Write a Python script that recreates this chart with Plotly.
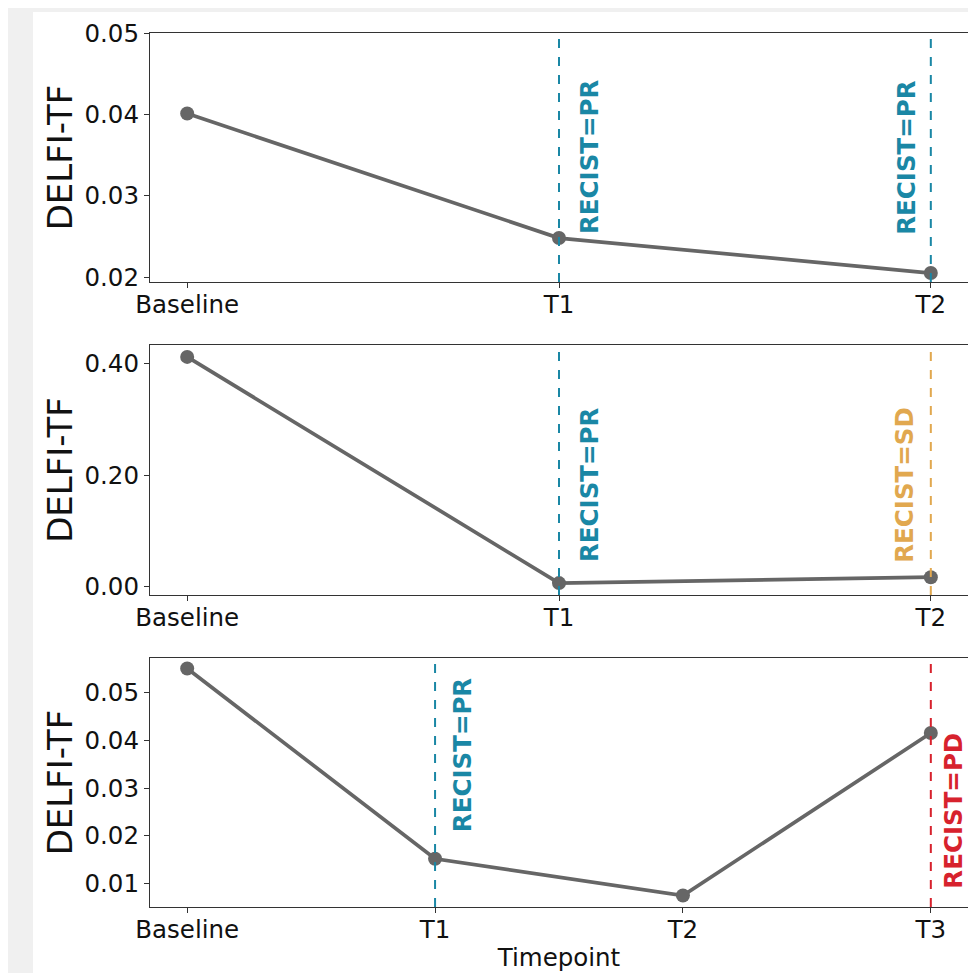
import plotly.graph_objects as go

# ---- data ----
p1_cats = ["Baseline", "T1", "T2"]
p1_vals = [0.0401, 0.0248, 0.0205]
p2_cats = ["Baseline", "T1", "T2"]
p2_vals = [0.4126, 0.0054, 0.0160]
p3_cats = ["Baseline", "T1", "T2", "T3"]
p3_vals = [0.0550, 0.0152, 0.0075, 0.0415]

# RECIST annotations: (panel, timepoint, label)
recist = [
    (1, "T1", "RECIST=PR"),
    (1, "T2", "RECIST=PR"),
    (2, "T1", "RECIST=PR"),
    (2, "T2", "RECIST=SD"),
    (3, "T1", "RECIST=PR"),
    (3, "T3", "RECIST=PD"),
]
recist_colors = {"PR": "#1a87a5", "SD": "#e1a84f", "PD": "#d7222d"}

W, H = 976, 973
OFF = 8  # page body margin offset
LINE_COL = "#666666"
FONT = "DejaVu Sans"
TICK_SIZE = 24.5

fig = go.Figure()

panels = [(p1_cats, p1_vals), (p2_cats, p2_vals), (p3_cats, p3_vals)]
# pixel layout of plot areas in screen pixels (top, bottom)
ybox = [(33, 282), (345, 595), (658, 907)]
xbox = (150, 968)
yranges = [[0.0194, 0.0500], [-0.016, 0.434], [0.0051, 0.0572]]
ytickvals = [[0.02, 0.03, 0.04, 0.05], [0.0, 0.2, 0.4], [0.01, 0.02, 0.03, 0.04, 0.05]]


def px(x):
    return (x - OFF) / W


def py(y):
    return 1 - (y - OFF) / H


for i, (cats, vals) in enumerate(panels):
    n = i + 1
    xa = "x" if n == 1 else f"x{n}"
    ya = "y" if n == 1 else f"y{n}"
    fig.add_trace(go.Scatter(
        x=cats, y=vals, mode="lines+markers",
        line=dict(color=LINE_COL, width=3.7),
        marker=dict(color=LINE_COL, size=14),
        xaxis=xa, yaxis=ya, showlegend=False, hoverinfo="skip",
    ))
    top, bot = ybox[i]
    axis_common = dict(
        showline=True, linecolor="#333333", linewidth=1.2, mirror=True,
        ticks="outside", ticklen=5, tickwidth=1.2, tickcolor="#333333",
        showgrid=False, zeroline=False, automargin=False,
        tickfont=dict(family=FONT, size=TICK_SIZE, color="#111111"),
    )
    xkey = "xaxis" if n == 1 else f"xaxis{n}"
    ykey = "yaxis" if n == 1 else f"yaxis{n}"
    ncat = len(cats)
    xlay = dict(
        axis_common,
        type="category", categoryorder="array", categoryarray=cats,
        range=[-0.05 * (ncat - 1), (ncat - 1) * 1.05],
        domain=[px(xbox[0]), px(xbox[1])],
        anchor=ya,
        ticklabelstandoff=-5,
    )
    if n == 3:
        xlay["title"] = dict(text="Timepoint", font=dict(family=FONT, size=TICK_SIZE, color="#111111"), standoff=6)
    ylay = dict(
        axis_common,
        range=yranges[i],
        tickvals=ytickvals[i], tickformat=".2f",
        domain=[py(bot), py(top)],
        anchor=xa,
        title=dict(text="DELFI-TF", font=dict(family=FONT, size=34, color="#111111"), standoff=1),
    )
    fig.update_layout(**{xkey: xlay, ykey: ylay})

# annotation placement (pixel offsets and vertical centre in axis-domain fraction)
ann_pos = {
    (1, "T1"): (30, 0.502),
    (1, "T2"): (-25, 0.502),
    (2, "T1"): (30, 0.44),
    (2, "T2"): (-27, 0.44),
    (3, "T1"): (27, 0.61),
    (3, "T3"): (23, 0.386),
}

for panel, tp, label in recist:
    col = recist_colors[label.split("=")[1]]
    xa = "x" if panel == 1 else f"x{panel}"
    ya = "y" if panel == 1 else f"y{panel}"
    fig.add_shape(
        type="line", xref=xa, yref=f"{ya} domain",
        x0=tp, x1=tp, y0=0, y1=1,
        line=dict(color=col, width=2, dash="dash"),
    )
    dx, yc = ann_pos[(panel, tp)]
    fig.add_annotation(
        x=tp, xref=xa, y=yc, yref=f"{ya} domain",
        text=f"<b>{label}</b>", textangle=-90, showarrow=False,
        xanchor="center", yanchor="middle", xshift=dx,
        font=dict(family=FONT, size=TICK_SIZE, color=col),
    )

# background frame (light gray border at top/left)
fig.add_shape(type="rect", xref="paper", yref="paper",
              x0=px(33), x1=1.0, y0=0.0, y1=py(12),
              fillcolor="white", line=dict(width=0), layer="below")

fig.update_layout(
    width=W, height=H,
    margin=dict(l=0, r=0, t=0, b=0, autoexpand=False),
    paper_bgcolor="#f0f0f0", plot_bgcolor="white",
    font=dict(family=FONT),
)

fig.write_html("out.html")
